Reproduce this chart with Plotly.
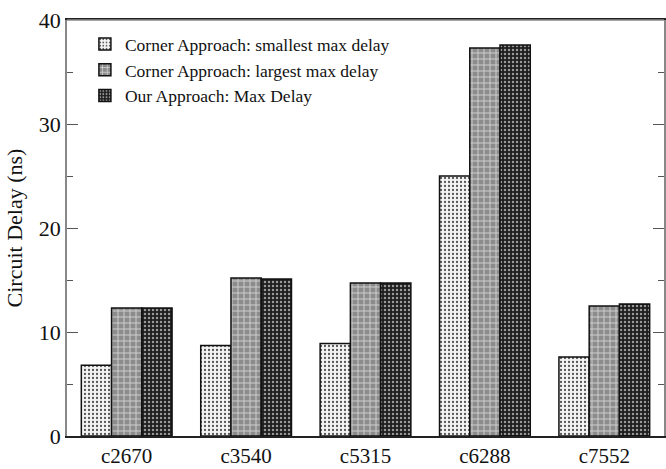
import plotly.graph_objects as go

categories = ["c2670", "c3540", "c5315", "c6288", "c7552"]
corner_smallest = [6.8, 8.7, 8.9, 25.0, 7.6]
corner_largest = [12.3, 15.2, 14.7, 37.3, 12.5]
our_max = [12.3, 15.1, 14.7, 37.6, 12.7]
series_names = ["Corner Approach: smallest max delay",
                "Corner Approach: largest max delay",
                "Our Approach: Max Delay"]

font = "Liberation Serif, Times New Roman, serif"

fig = go.Figure()
styles = [
    dict(bg="#f4f4f4", fg="#555555", shape=".", size=4, sol=0.25),
    dict(bg="#8c8c8c", fg="#cfcfcf", shape="+", size=6, sol=0.3),
    dict(bg="#1e1e1e", fg="#9a9a9a", shape=".", size=4, sol=0.3),
]
for name, vals, st in zip(series_names, [corner_smallest, corner_largest, our_max], styles):
    fig.add_trace(go.Bar(
        x=categories, y=vals, name=name,
        marker=dict(
            color=st["bg"],
            line=dict(color="#111111", width=1.5),
            pattern=dict(shape=st["shape"], fgcolor=st["fg"], bgcolor=st["bg"],
                         size=st["size"], solidity=st["sol"], fillmode="replace"),
        ),
    ))

fig.update_layout(
    width=666, height=469,
    margin=dict(l=67, r=2, t=20, b=33),
    paper_bgcolor="white", plot_bgcolor="white",
    barmode="group", bargap=0.24, bargroupgap=0,
    font=dict(family=font, color="#111111"),
    showlegend=True,
    legend=dict(x=0.03, y=0.985, xanchor="left", yanchor="top",
                bgcolor="rgba(255,255,255,0)", font=dict(size=17.5, family=font),
                tracegroupgap=5, itemwidth=30),
    xaxis=dict(range=[-0.5, 4.5], showline=True, linecolor="#222222", linewidth=1.5,
               mirror=True, ticks="", tickfont=dict(size=21, family=font),
               ticklabelstandoff=0, automargin=False,
               showgrid=False, zeroline=False),
    yaxis=dict(range=[0, 40], dtick=10, showline=True, linecolor="#888888", linewidth=1.5,
               mirror="ticks", ticks="inside", ticklen=11, tickcolor="#555555",
               tickfont=dict(size=22, family=font), showgrid=False, zeroline=False,
               automargin=False,
               minor=dict(dtick=5, ticks="inside", ticklen=6, tickcolor="#555555"),
               title=dict(text="Circuit Delay (ns)", font=dict(size=22, family=font), standoff=10)),
)
fig.add_shape(type="line", xref="paper", yref="paper", x0=0, x1=1, y0=1, y1=1,
              line=dict(color="#888888", width=1.5))

fig.write_html("out.html", config={"displayModeBar": False},
               post_script="document.body.style.margin='0';")
